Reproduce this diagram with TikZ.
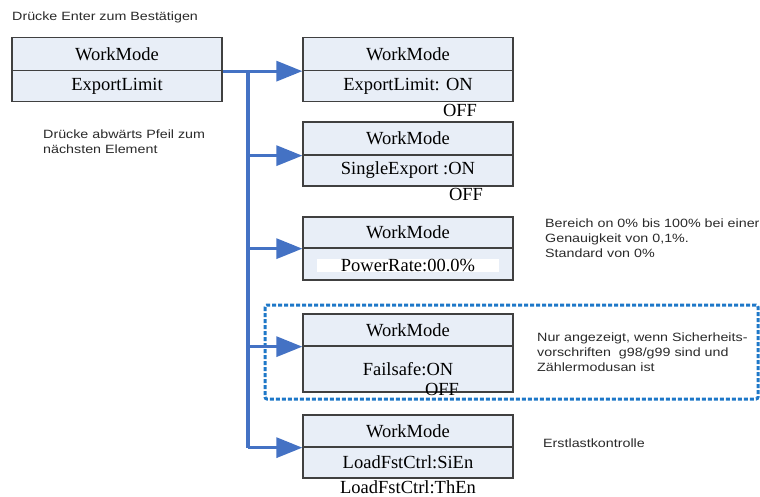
\documentclass[tikz,border=0pt]{standalone}
\usepackage{fontspec}
\setmainfont{Liberation Serif}
\newfontfamily\notefont[FakeStretch=1.19]{Liberation Sans}
\usetikzlibrary{arrows.meta}
\definecolor{cellfill}{HTML}{E8EEF7}
\definecolor{cellline}{HTML}{404040}
\definecolor{connblue}{HTML}{4472C4}
\definecolor{frameblue}{HTML}{1E78C8}
\definecolor{notegray}{HTML}{2A2A2A}
\tikzset{
  x=1pt, y=-1pt,
  cell/.style={draw=cellline, line width=1.3pt, fill=cellfill, minimum width=210pt,
    inner sep=0pt, font=\fontsize{18.5}{20}\selectfont, anchor=center},
  plain/.style={inner sep=0pt, font=\fontsize{18.5}{20}\selectfont},
  note/.style={inner sep=0pt, anchor=west, align=left, text=notegray,
    font=\notefont\fontsize{12}{15}\selectfont},
  conn/.style={draw=connblue, line width=3.2pt, -{Triangle[length=26pt,width=20pt]}},
  trunk/.style={draw=connblue, line width=3.2pt},
  frame/.style={draw=frameblue, line width=3pt, dash pattern=on 4pt off 2pt, rounded corners=2pt}
}
\begin{document}
\begin{tikzpicture}
\useasboundingbox (0,0) rectangle (760,496);
% title
\node[note] (t1) at (12,17) {Drücke Enter zum Bestätigen};
% main box
\node[cell, minimum height=33pt] (mt) at (117,54) {WorkMode};
\node[cell, minimum height=31pt] (mb) at (117,86) {ExportLimit};
\node[note, anchor=north west] (t2) at (43,130) {Drücke abwärts Pfeil zum\\nächsten Element};
% box 1
\node[cell, minimum height=33pt] (b1t) at (408,54) {WorkMode};
\node[cell, minimum height=31pt] (b1b) at (408,86) {ExportLimit: ON};
\node[plain] (o1) at (460,110) {OFF};
% box 2
\node[cell, minimum height=33pt] (b2t) at (408,138.5) {WorkMode};
\node[cell, minimum height=31pt] (b2b) at (408,170.5) {SingleExport :ON};
\node[plain] (o2) at (466,194) {OFF};
% box 3
\node[cell, minimum height=31pt] (b3t) at (408,232.5) {WorkMode};
\node[cell, minimum height=32pt] (b3b) at (408,264) {};
\fill[white] (317,259) rectangle (499,272);
\node[plain] (p3) at (408,265) {PowerRate:00.0\%};
\node[note, anchor=north west] (n3) at (545,219) {Bereich on 0\% bis 100\% bei einer\\Genauigkeit von 0,1\%.\\Standard von 0\%};
% box 4 with frame
\draw[frame] (265,305) rectangle (758,399);
\node[cell, minimum height=32pt] (b4t) at (408,330) {WorkMode};
\node[cell, minimum height=46pt] (b4b) at (408,369) {Failsafe:ON};
\node[plain] (o4) at (442,389) {OFF};
\node[note, anchor=north west] (n4) at (537,333) {Nur angezeigt, wenn Sicherheits-\\vorschriften\ \ g98/g99 sind und\\Zählermodusan ist};
% box 5
\node[cell, minimum height=32pt] (b5t) at (408,431) {WorkMode};
\node[cell, minimum height=31pt] (b5b) at (408,462.5) {LoadFstCtrl:SiEn};
\node[plain] (o5) at (408,487) {LoadFstCtrl:ThEn};
\node[note] (n5) at (543,443) {Erstlastkontrolle};
% connectors
\coordinate (j) at (248,70.5);
\draw[conn] (mt.south east) -- (b1t.south west);
\draw[trunk] (j) -- (j |- b5t.south);
\draw[conn] (j |- b2t.south) -- (b2t.south west);
\draw[conn] (j |- b3t.south) -- (b3t.south west);
\draw[conn] (j |- b4t.south) -- (b4t.south west);
\draw[conn] (j |- b5t.south) -- (b5t.south west);
\end{tikzpicture}
\end{document}
